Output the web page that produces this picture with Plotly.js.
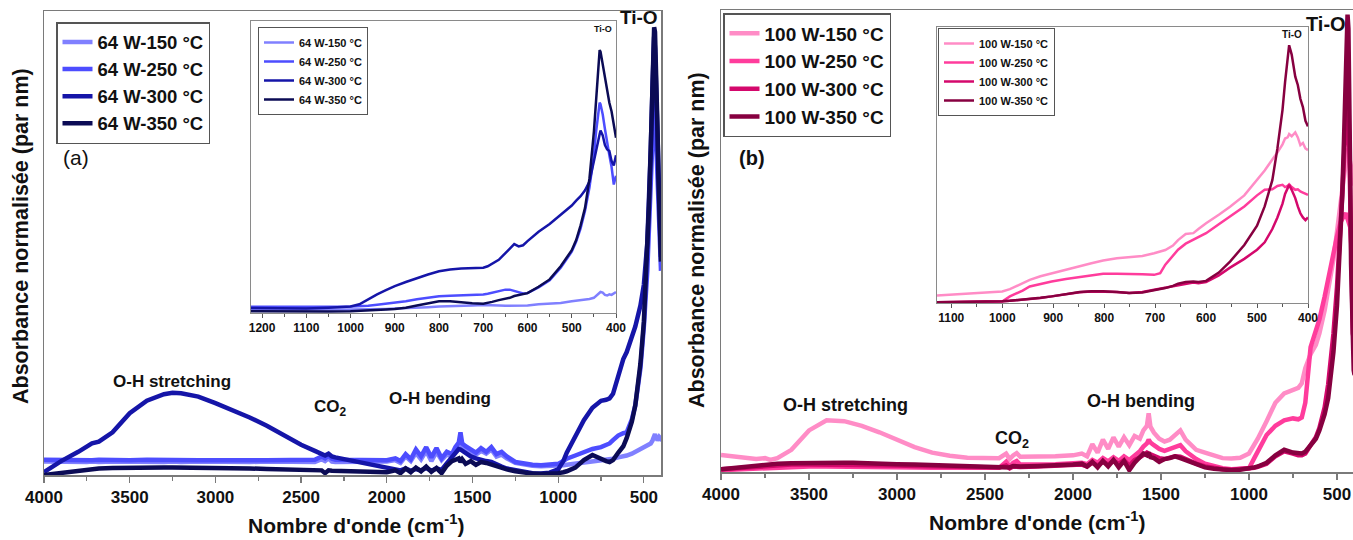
<!DOCTYPE html>
<html>
<head>
<meta charset="utf-8">
<script src="https://cdn.plot.ly/plotly-3.0.1.min.js"></script>
<style>html,body{margin:0;padding:0;background:#fff;}#chart{width:1353px;height:540px;}</style>
</head>
<body>
<div id="chart"></div>
<script>
// ---------------- DATA ----------------
// wavenumbers (cm-1) for main spectra
const wn = [4000,3900,3800,3750,3720,3680,3600,3500,3400,3300,
 3250,3200,3100,3000,2900,2800,2700,2600,2500,2420,
 2380,2360,2340,2320,2300,2200,2100,2000,1950,1920,
 1890,1860,1830,1800,1770,1740,1710,1680,1650,1620,
 1600,1580,1570,1560,1540,1510,1480,1450,1420,1390,
 1360,1330,1300,1250,1200,1150,1100,1050,1000,970,
 950,900,850,800,750,720,700,680,650,620,
 600,570,550,520,500,480,470,460,450,445,
 440,435,430,425,420,415,410,405,400];

const seriesA = ['64 W-150 °C','64 W-250 °C','64 W-300 °C','64 W-350 °C'];
const seriesB = ['100 W-150 °C','100 W-250 °C','100 W-300 °C','100 W-350 °C'];

const a150 = [0.029,0.028,0.029,0.028,0.029,0.028,0.029,0.028,0.029,0.028,
 0.029,0.028,0.029,0.028,0.029,0.028,0.029,0.028,0.029,0.028,
 0.034,0.030,0.036,0.029,0.028,0.029,0.028,0.029,0.032,0.026,
 0.040,0.030,0.048,0.034,0.052,0.030,0.050,0.032,0.044,0.040,
 0.055,0.062,0.075,0.060,0.055,0.050,0.044,0.052,0.046,0.055,
 0.040,0.044,0.036,0.026,0.022,0.020,0.019,0.019,0.020,0.021,
 0.022,0.024,0.027,0.030,0.032,0.033,0.034,0.035,0.038,0.040,
 0.042,0.046,0.050,0.054,0.058,0.062,0.065,0.068,0.074,0.080,
 0.086,0.088,0.082,0.078,0.075,0.078,0.082,0.080,0.084];
const a250 = [0.033,0.032,0.033,0.032,0.032,0.033,0.032,0.032,0.033,0.032,
 0.032,0.033,0.032,0.032,0.033,0.032,0.032,0.033,0.032,0.033,
 0.040,0.036,0.042,0.035,0.033,0.032,0.033,0.032,0.036,0.030,
 0.045,0.034,0.055,0.040,0.060,0.038,0.058,0.036,0.050,0.045,
 0.060,0.070,0.092,0.068,0.062,0.055,0.048,0.058,0.050,0.060,
 0.045,0.050,0.040,0.028,0.024,0.022,0.021,0.022,0.024,0.030,
 0.035,0.042,0.050,0.056,0.060,0.064,0.068,0.075,0.085,0.090,
 0.092,0.120,0.150,0.230,0.320,0.440,0.520,0.620,0.720,0.780,
 0.800,0.790,0.740,0.680,0.620,0.560,0.500,0.460,0.440];
const a300 = [0.006,0.030,0.050,0.062,0.068,0.072,0.092,0.133,0.160,0.174,
 0.177,0.176,0.169,0.155,0.140,0.124,0.106,0.086,0.065,0.052,
 0.047,0.042,0.046,0.040,0.038,0.031,0.022,0.015,0.012,0.010,
 0.014,0.009,0.013,0.010,0.015,0.009,0.014,0.011,0.025,0.040,
 0.050,0.056,0.055,0.052,0.046,0.040,0.036,0.032,0.030,0.028,
 0.022,0.018,0.014,0.010,0.006,0.004,0.003,0.005,0.012,0.030,
 0.048,0.085,0.118,0.145,0.160,0.162,0.165,0.175,0.210,0.250,
 0.265,0.295,0.320,0.365,0.410,0.500,0.580,0.700,0.830,0.900,
 0.945,0.920,0.860,0.800,0.740,0.690,0.600,0.520,0.470];
const a350 = [0.000,0.005,0.010,0.012,0.013,0.014,0.015,0.016,0.016,0.016,
 0.016,0.016,0.015,0.015,0.014,0.014,0.013,0.012,0.011,0.010,
 0.010,0.004,0.010,0.009,0.009,0.008,0.007,0.006,0.010,0.004,
 0.014,0.006,0.016,0.008,0.018,0.007,0.015,0.004,0.020,0.030,
 0.034,0.036,0.028,0.034,0.024,0.030,0.022,0.028,0.026,0.022,
 0.020,0.015,0.012,0.008,0.005,0.003,0.002,0.002,0.004,0.006,
 0.008,0.016,0.032,0.043,0.034,0.030,0.028,0.032,0.048,0.062,
 0.080,0.115,0.150,0.240,0.330,0.480,0.580,0.700,0.840,0.920,
 0.965,0.955,0.900,0.820,0.740,0.640,0.560,0.500,0.460];

const b150 = [0.037,0.032,0.028,0.030,0.026,0.030,0.048,0.090,0.112,0.110,
 0.106,0.100,0.086,0.070,0.054,0.042,0.035,0.031,0.030,0.030,
 0.040,0.028,0.036,0.041,0.033,0.033,0.034,0.036,0.040,0.034,
 0.060,0.042,0.070,0.050,0.075,0.055,0.075,0.058,0.078,0.072,
 0.090,0.100,0.127,0.098,0.085,0.072,0.066,0.070,0.080,0.090,
 0.070,0.058,0.048,0.042,0.035,0.030,0.029,0.031,0.040,0.058,
 0.072,0.110,0.150,0.170,0.178,0.182,0.192,0.225,0.255,0.275,
 0.300,0.350,0.395,0.460,0.520,0.580,0.610,0.640,0.670,0.690,
 0.700,0.690,0.680,0.665,0.650,0.640,0.630,0.630,0.620];
const b250 = [0.004,0.006,0.008,0.009,0.010,0.010,0.011,0.012,0.012,0.012,
 0.012,0.012,0.011,0.010,0.010,0.009,0.009,0.008,0.008,0.009,
 0.022,0.012,0.020,0.024,0.016,0.016,0.017,0.019,0.020,0.017,
 0.026,0.020,0.030,0.023,0.032,0.024,0.034,0.026,0.036,0.045,
 0.055,0.062,0.070,0.064,0.058,0.050,0.046,0.050,0.056,0.058,
 0.045,0.036,0.028,0.018,0.012,0.008,0.006,0.006,0.008,0.030,
 0.045,0.080,0.100,0.112,0.116,0.114,0.118,0.150,0.270,0.310,
 0.330,0.380,0.420,0.480,0.510,0.540,0.550,0.555,0.560,0.555,
 0.550,0.545,0.540,0.530,0.500,0.460,0.420,0.400,0.390];
const b300 = [0.006,0.009,0.012,0.013,0.014,0.015,0.016,0.016,0.016,0.016,
 0.016,0.015,0.015,0.014,0.013,0.012,0.011,0.010,0.010,0.010,
 0.014,0.008,0.012,0.011,0.011,0.012,0.013,0.014,0.016,0.012,
 0.020,0.014,0.022,0.016,0.024,0.018,0.025,0.014,0.026,0.032,
 0.038,0.042,0.040,0.038,0.034,0.030,0.028,0.032,0.034,0.033,
 0.028,0.022,0.018,0.012,0.008,0.006,0.005,0.006,0.007,0.009,
 0.011,0.018,0.034,0.045,0.040,0.036,0.036,0.040,0.058,0.075,
 0.095,0.140,0.190,0.300,0.400,0.520,0.600,0.680,0.760,0.800,
 0.830,0.800,0.700,0.560,0.420,0.340,0.300,0.290,0.280];
const b350 = [0.006,0.010,0.014,0.016,0.017,0.018,0.019,0.020,0.020,0.020,
 0.020,0.019,0.018,0.017,0.016,0.015,0.014,0.013,0.012,0.012,
 0.012,0.010,0.013,0.012,0.012,0.013,0.014,0.016,0.018,0.012,
 0.022,0.010,0.024,0.012,0.026,0.010,0.024,0.004,0.020,0.034,
 0.040,0.036,0.042,0.032,0.030,0.022,0.028,0.030,0.034,0.030,
 0.026,0.020,0.016,0.010,0.007,0.005,0.004,0.005,0.007,0.010,
 0.012,0.020,0.036,0.048,0.042,0.040,0.040,0.044,0.060,0.072,
 0.090,0.125,0.160,0.260,0.360,0.500,0.600,0.720,0.860,0.940,
 0.990,0.960,0.850,0.650,0.450,0.320,0.250,0.220,0.210];

// inset (a) wavenumbers and values
const wnInsetA = [1225,1150,1100,1050,1000,980,960,940,920,900,
 875,850,825,800,775,750,725,700,690,680,
 665,650,640,630,620,610,600,575,550,525,
 500,490,480,470,460,450,445,440,437,435,
 430,425,420,415,410,405,400];
const ia150 = [0.012,0.011,0.011,0.012,0.012,0.012,0.013,0.013,0.014,0.015,
 0.016,0.018,0.020,0.022,0.024,0.026,0.026,0.027,0.026,0.027,
 0.026,0.025,0.025,0.024,0.024,0.025,0.026,0.030,0.032,0.034,
 0.040,0.042,0.042,0.045,0.048,0.052,0.058,0.066,0.070,0.072,
 0.070,0.062,0.060,0.064,0.062,0.066,0.072];
const ia250 = [0.021,0.020,0.020,0.021,0.022,0.023,0.025,0.028,0.031,0.034,
 0.040,0.047,0.053,0.057,0.059,0.060,0.061,0.063,0.066,0.070,
 0.075,0.080,0.080,0.076,0.070,0.067,0.068,0.088,0.112,0.155,
 0.210,0.245,0.290,0.350,0.430,0.540,0.620,0.690,0.720,0.715,
 0.680,0.630,0.580,0.540,0.500,0.440,0.470];
const ia300 = [0.017,0.016,0.015,0.018,0.022,0.030,0.048,0.064,0.078,0.092,
 0.106,0.120,0.132,0.143,0.149,0.152,0.153,0.155,0.160,0.168,
 0.182,0.205,0.222,0.236,0.228,0.232,0.246,0.278,0.305,0.336,
 0.368,0.385,0.400,0.420,0.450,0.520,0.560,0.598,0.612,0.625,
 0.608,0.575,0.560,0.555,0.520,0.505,0.540];
const ia350 = [0.006,0.005,0.004,0.005,0.006,0.007,0.008,0.010,0.012,0.014,
 0.018,0.026,0.034,0.040,0.040,0.036,0.033,0.032,0.034,0.038,
 0.044,0.048,0.052,0.058,0.062,0.064,0.068,0.090,0.115,0.160,
 0.215,0.250,0.300,0.360,0.460,0.620,0.720,0.830,0.900,0.895,
 0.850,0.800,0.760,0.720,0.690,0.650,0.600];

// inset (b) wavenumbers and values
const wnInsetB = [1128,1050,1000,985,960,946,925,903,875,848,
 825,802,775,751,725,702,690,680,665,655,
 640,625,615,600,575,553,525,500,485,470,
 460,450,445,440,437,432,425,420,415,410,
 405,400];
const ib150 = [0.027,0.035,0.042,0.050,0.070,0.084,0.097,0.108,0.120,0.133,
 0.144,0.154,0.162,0.166,0.170,0.180,0.186,0.192,0.208,0.228,
 0.250,0.253,0.268,0.289,0.320,0.349,0.390,0.446,0.480,0.520,
 0.545,0.575,0.596,0.600,0.612,0.604,0.618,0.600,0.572,0.580,
 0.560,0.554];
const ib250 = [0.002,0.003,0.005,0.024,0.045,0.060,0.070,0.078,0.087,0.094,
 0.100,0.106,0.106,0.106,0.104,0.102,0.108,0.139,0.170,0.193,
 0.215,0.229,0.238,0.253,0.285,0.313,0.350,0.390,0.410,0.412,
 0.424,0.428,0.420,0.424,0.430,0.420,0.410,0.412,0.404,0.400,
 0.396,0.392];
const ib300 = [0.003,0.004,0.006,0.008,0.012,0.014,0.018,0.024,0.032,0.039,
 0.042,0.042,0.040,0.036,0.040,0.048,0.052,0.056,0.060,0.064,
 0.070,0.074,0.072,0.076,0.100,0.128,0.160,0.193,0.220,0.268,
 0.310,0.360,0.395,0.418,0.428,0.410,0.380,0.350,0.325,0.310,
 0.300,0.310];
const ib350 = [0.003,0.004,0.006,0.008,0.012,0.015,0.019,0.024,0.032,0.040,
 0.043,0.043,0.040,0.036,0.038,0.046,0.050,0.054,0.062,0.070,
 0.076,0.078,0.076,0.080,0.110,0.150,0.210,0.280,0.350,0.445,
 0.560,0.700,0.800,0.880,0.934,0.900,0.820,0.790,0.740,0.710,
 0.660,0.640];

// ---------------- STYLE ----------------
const W = 1353, H = 540;
const px = x => x / W;
const py = y => 1 - y / H;
const colA = ['#8080ff', '#4d4dff', '#1515a8', '#0b0b55'];
const colB = ['#ff8cc6', '#ff3c9c', '#d4086c', '#870040'];
const BOLD = 'Liberation Sans, Arial, sans-serif';
const NARROW = 'Liberation Sans Narrow, Liberation Sans, Arial, sans-serif';

const mainA = [a150, a250, a300, a350];
const mainB = [b150, b250, b300, b350];
const insA = [ia150, ia250, ia300, ia350];
const insB = [ib150, ib250, ib300, ib350];

const traces = [];
mainA.forEach((ys, i) => traces.push({x: wn, y: ys, name: seriesA[i], type: 'scatter', mode: 'lines',
  line: {color: colA[i], width: 4.5}, xaxis: 'x', yaxis: 'y', legend: 'legend'}));
mainB.forEach((ys, i) => traces.push({x: wn, y: ys, name: seriesB[i], type: 'scatter', mode: 'lines',
  line: {color: colB[i], width: 4.5}, xaxis: 'x2', yaxis: 'y2', legend: 'legend2'}));
insA.forEach((ys, i) => traces.push({x: wnInsetA, y: ys, name: seriesA[i], type: 'scatter', mode: 'lines',
  line: {color: colA[i], width: 2.5}, xaxis: 'x3', yaxis: 'y3', legend: 'legend3'}));
insB.forEach((ys, i) => traces.push({x: wnInsetB, y: ys, name: seriesB[i], type: 'scatter', mode: 'lines',
  line: {color: colB[i], width: 2.5}, xaxis: 'x4', yaxis: 'y4', legend: 'legend4'}));

const lineCol = '#7a7a7a';
function mainX(domain, range, anchor) {
  return {domain: domain, range: range, anchor: anchor, dtick: 500, tick0: 0,
    ticks: 'outside', ticklen: 6, tickwidth: 1.2, tickcolor: lineCol,
    minor: {dtick: 250, ticks: 'outside', ticklen: 4, tickcolor: lineCol},
    showline: true, linecolor: lineCol, linewidth: 1.5, mirror: true,
    showgrid: false, zeroline: false,
    tickfont: {family: NARROW, size: 17, weight: 'bold', color: '#111'}};
}
function mainY(domain, anchor, mirror) {
  return {domain: domain, range: [0, 1], anchor: anchor, showticklabels: false, ticks: '',
    showline: true, linecolor: lineCol, linewidth: 1.5, mirror: mirror,
    showgrid: false, zeroline: false};
}
function insX(domain, range, anchor) {
  return {domain: domain, range: range, anchor: anchor, dtick: 100, tick0: 0,
    ticks: 'outside', ticklen: 4, tickcolor: '#555',
    minor: {dtick: 50, ticks: 'outside', ticklen: 3, tickcolor: '#555'},
    showline: true, linecolor: '#8a8a8a', linewidth: 1, mirror: true,
    showgrid: false, zeroline: false,
    tickfont: {family: NARROW, size: 12, weight: 'bold', color: '#111'}};
}
function insY(domain, anchor) {
  return {domain: domain, range: [0, 1], anchor: anchor, showticklabels: false, ticks: '',
    showline: true, linecolor: '#8a8a8a', linewidth: 1, mirror: true,
    showgrid: false, zeroline: false};
}
function legendBox(x, y, size, bw) {
  return {x: x, y: y, xanchor: 'left', yanchor: 'top', bgcolor: '#ffffff',
    bordercolor: '#555', borderwidth: bw, tracegroupgap: 0,
    font: {family: BOLD, size: size, weight: 'bold', color: '#111'}};
}
function ann(text, x, y, size, extra) {
  return Object.assign({text: text, x: px(x), y: py(y), xref: 'paper', yref: 'paper',
    xanchor: 'center', yanchor: 'middle', showarrow: false,
    font: {family: NARROW, size: size, weight: 'bold', color: '#111'}}, extra || {});
}

const layout = {
  width: W, height: H, margin: {l: 0, r: 0, t: 0, b: 0},
  paper_bgcolor: '#fff', plot_bgcolor: '#fff', showlegend: true,
  xaxis: mainX([px(44), px(661)], [4000, 400], 'y'),
  yaxis: mainY([py(475), py(11)], 'x', true),
  xaxis2: mainX([px(721), 1], [4000, 409], 'y2'),
  yaxis2: mainY([py(472), py(10)], 'x2', false),
  xaxis3: insX([px(251), px(616)], [1225, 400], 'y3'),
  yaxis3: insY([py(313), py(21)], 'x3'),
  xaxis4: insX([px(937), px(1308)], [1128, 400], 'y4'),
  yaxis4: insY([py(303), py(27)], 'x4'),
  legend: legendBox(px(56), py(22), 18.5, 1.5),
  legend2: legendBox(px(723), py(13), 19, 1.5),
  legend3: legendBox(px(258), py(27), 11, 1),
  legend4: legendBox(px(938), py(28), 11, 1),
  annotations: [
    ann("Nombre d'onde (cm<sup>-1</sup>)", 356, 524, 21),
    ann("Nombre d'onde (cm<sup>-1</sup>)", 1037, 521, 21),
    ann('Absorbance normalisée (par nm)', 21, 236, 21.5, {textangle: -90, font: {family: BOLD, size: 21.5, weight: 'bold', color: '#111'}}),
    ann('Absorbance normalisée (par nm)', 697, 240, 21.5, {textangle: -90, font: {family: BOLD, size: 21.5, weight: 'bold', color: '#111'}}),
    ann('(a)', 76, 158, 21, {font: {family: BOLD, size: 21, color: '#111'}}),
    ann('(b)', 752, 158, 20),
    ann('O-H stretching', 172, 381, 17),
    ann('CO<sub>2</sub>', 330, 408, 17),
    ann('O-H bending', 440, 398, 17),
    ann('Ti-O', 639, 18, 19),
    ann('Ti-O', 603, 29, 9),
    ann('O-H stretching', 845, 405, 18),
    ann('CO<sub>2</sub>', 1012, 439, 18),
    ann('O-H bending', 1141, 401, 18),
    ann('Ti-O', 1326, 24, 20),
    ann('Ti-O', 1292, 35, 10)
  ]
};

Plotly.newPlot('chart', traces, layout, {displayModeBar: false, staticPlot: true});
</script>
</body>
</html>
